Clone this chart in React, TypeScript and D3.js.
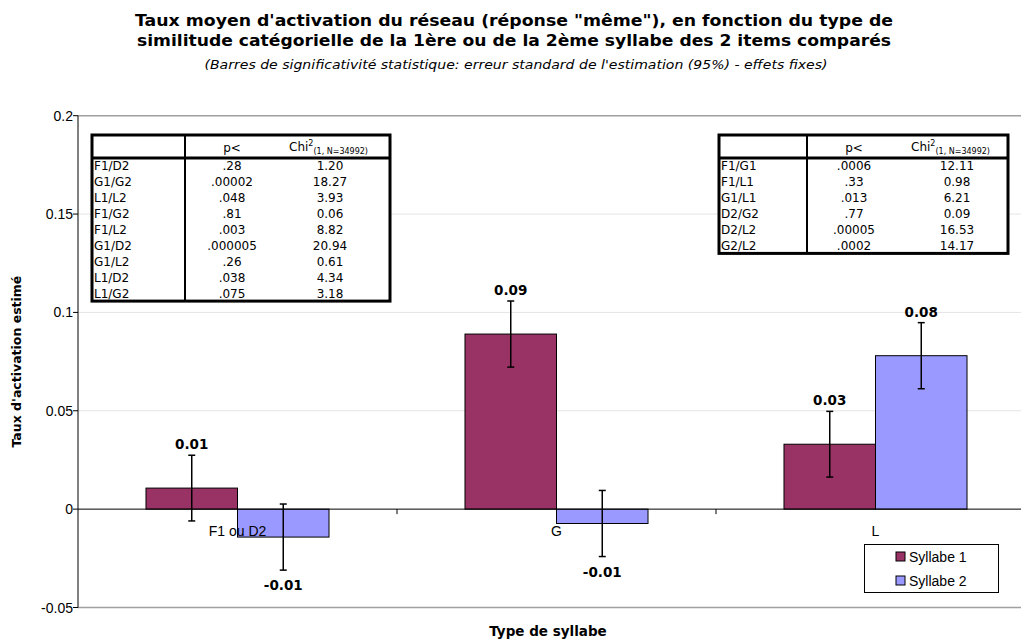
import React from "react";
import * as d3 from "d3";

const categories = ["F1 ou D2", "G", "L"];
const seriesNames = ["Syllabe 1", "Syllabe 2"];
const syllabe1 = [0.0107, 0.089, 0.033];
const syllabe2 = [-0.0142, -0.0073, 0.078];
const error1 = [0.0167, 0.0168, 0.0167];
const error2 = [0.0168, 0.0168, 0.0168];
const labels1 = ["0.01", "0.09", "0.03"];
const labels2 = ["-0.01", "-0.01", "0.08"];
const yTicks = [-0.05, 0, 0.05, 0.1, 0.15, 0.2];
const yTickLabels = ["-0.05", "0", "0.05", "0.1", "0.15", "0.2"];

const leftPairs = ["F1/D2", "G1/G2", "L1/L2", "F1/G2", "F1/L2", "G1/D2", "G1/L2", "L1/D2", "L1/G2"];
const leftP = [".28", ".00002", ".048", ".81", ".003", ".000005", ".26", ".038", ".075"];
const leftChi = ["1.20", "18.27", "3.93", "0.06", "8.82", "20.94", "0.61", "4.34", "3.18"];
const rightPairs = ["F1/G1", "F1/L1", "G1/L1", "D2/G2", "D2/L2", "G2/L2"];
const rightP = [".0006", ".33", ".013", ".77", ".00005", ".0002"];
const rightChi = ["12.11", "0.98", "6.21", "0.09", "16.53", "14.17"];

const colors = ["#993366", "#9999FF"];
const W = 1021;
const H = 641;
const verdana = "'DejaVu Sans', Verdana, sans-serif";
const arial = "'Liberation Sans', Arial, sans-serif";

function StatTable({ x0, x1, xDiv, pCx, chiCx, chiX, y0, headerH, rowH, pairs, ps, chis }: any) {
  const yHeaderBottom = y0 + headerH;
  const yBottom = yHeaderBottom + rowH * pairs.length;
  return (
    <g>
      <rect x={x0} y={y0} width={x1 - x0} height={yBottom - y0} fill="white" stroke="black" strokeWidth={3} />
      <line x1={x0} x2={x1} y1={yHeaderBottom} y2={yHeaderBottom} stroke="black" strokeWidth={3} />
      <line x1={xDiv} x2={xDiv} y1={y0} y2={yBottom} stroke="black" strokeWidth={2} />
      <text x={pCx} y={y0 + 17} textAnchor="middle" fontFamily={verdana} fontSize={12}>p&lt;</text>
      <text x={chiX} y={y0 + 16} fontFamily={verdana} fontSize={12}>
        Chi
        <tspan fontSize={8} dy={-5}>2</tspan>
        <tspan fontSize={8} dy={8}>(1, N=34992)</tspan>
      </text>
      {pairs.map((p: string, i: number) => {
        const cy = yHeaderBottom + rowH * (i + 0.5) + 4.5;
        return (
          <g key={p}>
            <text x={x0 + 2} y={cy} fontFamily={verdana} fontSize={12}>{p}</text>
            <text x={pCx} y={cy} textAnchor="middle" fontFamily={verdana} fontSize={12}>{ps[i]}</text>
            <text x={chiCx} y={cy} textAnchor="middle" fontFamily={verdana} fontSize={12}>{chis[i]}</text>
          </g>
        );
      })}
    </g>
  );
}

export default function App() {
  const plotLeft = 78;
  const plotRight = 1035;
  const x = d3.scaleBand<string>().domain(categories).range([plotLeft, plotRight]).padding(0);
  const xs = d3
    .scaleBand<string>()
    .domain(seriesNames)
    .range([0, x.bandwidth()])
    .paddingInner(0)
    .paddingOuter(0.743);
  const y = d3.scaleLinear().domain([-0.05, 0.2]).range([607.5, 115.7]);
  const series = [
    { name: seriesNames[0], values: syllabe1, errors: error1, labels: labels1, color: colors[0] },
    { name: seriesNames[1], values: syllabe2, errors: error2, labels: labels2, color: colors[1] },
  ];
  const y0 = y(0);

  return (
    <svg width={W} height={H} style={{ position: "absolute", left: 0, top: 0, background: "white" }}>
      <rect x={0} y={0} width={W} height={H} fill="white" />
      {/* title */}
      <text x={514} y={26} textAnchor="middle" fontFamily={verdana} fontWeight="bold" fontSize={16.5} textLength={758} lengthAdjust="spacingAndGlyphs">
        Taux moyen d'activation du réseau (réponse "même"), en fonction du type de
      </text>
      <text x={514} y={46} textAnchor="middle" fontFamily={verdana} fontWeight="bold" fontSize={16.5} textLength={754} lengthAdjust="spacingAndGlyphs">
        similitude catégorielle de la 1ère ou de la 2ème syllabe des 2 items comparés
      </text>
      <text x={516} y={69} textAnchor="middle" fontFamily={verdana} fontStyle="italic" fontSize={13} textLength={623} lengthAdjust="spacingAndGlyphs">
        (Barres de significativité statistique: erreur standard de l'estimation (95%) - effets fixes)
      </text>

      {/* gridlines */}
      {yTicks.map((t, i) => {
        const edge = i === 0 || i === yTicks.length - 1;
        if (t === 0) return null;
        return (
          <line key={"g" + t} x1={plotLeft} x2={W} y1={y(t)} y2={y(t)} stroke={edge ? "#a0a0a0" : "#e4e4e4"} strokeWidth={edge ? 1.5 : 1} />
        );
      })}

      {/* bars */}
      {series.map((s) =>
        categories.map((c, i) => {
          const bx = (x(c) as number) + (xs(s.name) as number);
          const v = s.values[i];
          return (
            <rect key={s.name + c} x={bx} y={Math.min(y(v), y0)} width={xs.bandwidth()} height={Math.abs(y(v) - y0)} fill={s.color} stroke="black" strokeWidth={1} />
          );
        })
      )}

      {/* zero line */}
      <line x1={plotLeft} x2={W} y1={y0} y2={y0} stroke="black" strokeWidth={1} />
      {categories.slice(1).map((c) => (
        <line key={"xt" + c} x1={x(c) as number} x2={x(c) as number} y1={y0} y2={y0 + 5} stroke="black" />
      ))}

      {/* error bars and labels */}
      {series.map((s) =>
        categories.map((c, i) => {
          const cx = (x(c) as number) + (xs(s.name) as number) + xs.bandwidth() / 2;
          const v = s.values[i];
          const e = s.errors[i];
          const top = y(v + e);
          const bot = y(v - e);
          const ly = v >= 0 ? top - 6 : bot + 20;
          return (
            <g key={"e" + s.name + c}>
              <line x1={cx} x2={cx} y1={top} y2={bot} stroke="black" strokeWidth={1.5} />
              <line x1={cx - 3.5} x2={cx + 3.5} y1={top} y2={top} stroke="black" strokeWidth={1.5} />
              <line x1={cx - 3.5} x2={cx + 3.5} y1={bot} y2={bot} stroke="black" strokeWidth={1.5} />
              <text x={cx} y={ly} textAnchor="middle" fontFamily={verdana} fontWeight="bold" fontSize={13.5}>{s.labels[i]}</text>
            </g>
          );
        })
      )}

      {/* category labels */}
      {categories.map((c) => (
        <text key={"cl" + c} x={(x(c) as number) + x.bandwidth() / 2} y={536} textAnchor="middle" fontFamily={arial} fontSize={14}>{c}</text>
      ))}

      {/* y axis */}
      <line x1={plotLeft} x2={plotLeft} y1={y(0.2)} y2={y(-0.05)} stroke="black" strokeWidth={1} />
      {yTicks.map((t, i) => (
        <g key={"yt" + t}>
          <line x1={plotLeft - 5} x2={plotLeft} y1={y(t)} y2={y(t)} stroke="black" />
          <text x={plotLeft - 5} y={y(t) + 5} textAnchor="end" fontFamily={arial} fontSize={14}>{yTickLabels[i]}</text>
        </g>
      ))}

      {/* axis titles */}
      <text transform={`translate(21, ${(y(0.2) + y(-0.05)) / 2}) rotate(-90)`} textAnchor="middle" fontFamily={verdana} fontWeight="bold" fontSize={12.5}>
        Taux d'activation estimé
      </text>
      <text x={548} y={636} textAnchor="middle" fontFamily={verdana} fontWeight="bold" fontSize={13.5}>
        Type de syllabe
      </text>

      {/* tables */}
      <StatTable x0={92} x1={390} xDiv={185} pCx={232} chiCx={330} chiX={289} y0={135} headerH={23} rowH={15.9} pairs={leftPairs} ps={leftP} chis={leftChi} />
      <StatTable x0={719} x1={1008} xDiv={807} pCx={854} chiCx={957} chiX={911} y0={135} headerH={23} rowH={15.9} pairs={rightPairs} ps={rightP} chis={rightChi} />

      {/* legend */}
      <rect x={864.5} y={544.5} width={134} height={48} fill="white" stroke="black" strokeWidth={1} />
      {seriesNames.map((n, i) => (
        <g key={"lg" + n}>
          <rect x={896} y={552 + i * 24} width={9} height={9} fill={colors[i]} stroke="black" strokeWidth={1} />
          <text x={909} y={561.5 + i * 24} fontFamily={arial} fontSize={14}>{n}</text>
        </g>
      ))}
    </svg>
  );
}
